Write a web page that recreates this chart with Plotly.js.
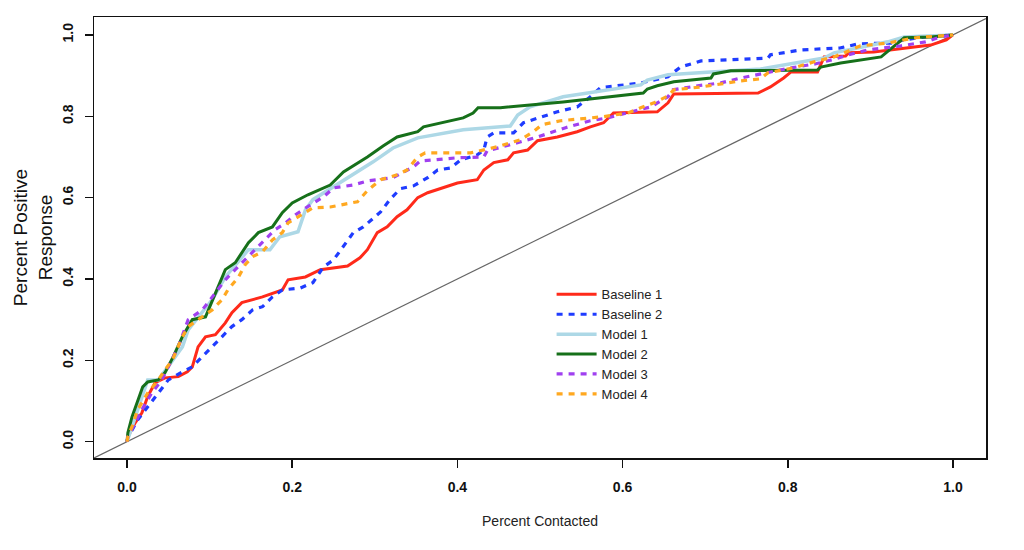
<!DOCTYPE html>
<html>
<head>
<meta charset="utf-8">
<script src="https://cdn.plot.ly/plotly-3.0.1.min.js"></script>
<style>html,body{margin:0;padding:0;background:#fff;}#chart{width:1024px;height:550px;}</style>
</head>
<body>
<div id="chart"></div>
<script>
// Series names
const seriesNames = ["Baseline 1", "Baseline 2", "Model 1", "Model 2", "Model 3", "Model 4"];

// Baseline 1 (red)
const b1x = [0,0.001,0.010,0.018,0.025,0.034,0.046,0.062,0.073,0.079,0.086,0.095,0.107,0.119,0.127,0.139,0.164,0.188,0.195,0.216,0.234,0.267,0.282,0.291,0.303,0.315,0.327,0.339,0.352,0.364,0.400,0.424,0.432,0.444,0.461,0.468,0.485,0.497,0.521,0.545,0.561,0.577,0.589,0.642,0.655,0.662,0.764,0.779,0.795,0.804,0.836,0.844,0.870,0.874,0.904,0.973,0.992,1.0];
const b1y = [0,0.012,0.047,0.071,0.111,0.145,0.157,0.160,0.172,0.184,0.233,0.258,0.263,0.292,0.317,0.342,0.356,0.373,0.398,0.405,0.423,0.432,0.452,0.472,0.514,0.528,0.553,0.570,0.600,0.612,0.636,0.644,0.668,0.686,0.693,0.710,0.717,0.740,0.749,0.762,0.774,0.784,0.808,0.811,0.833,0.855,0.857,0.872,0.894,0.909,0.909,0.946,0.948,0.956,0.958,0.975,0.988,1.0];

// Baseline 2 (blue dotted)
const b2x = [0,0.001,0.013,0.025,0.038,0.050,0.067,0.079,0.091,0.103,0.115,0.127,0.139,0.152,0.164,0.176,0.188,0.210,0.225,0.238,0.250,0.262,0.274,0.286,0.295,0.307,0.319,0.331,0.347,0.364,0.376,0.392,0.404,0.424,0.432,0.436,0.444,0.468,0.480,0.504,0.521,0.545,0.561,0.573,0.622,0.655,0.670,0.695,0.776,0.779,0.816,0.864,0.885,0.925,0.941,0.977,1.0];
const b2y = [0,0.010,0.054,0.086,0.120,0.152,0.172,0.184,0.209,0.233,0.258,0.283,0.300,0.324,0.332,0.356,0.373,0.378,0.391,0.430,0.447,0.479,0.514,0.528,0.545,0.565,0.597,0.622,0.629,0.649,0.668,0.673,0.693,0.705,0.717,0.749,0.759,0.759,0.784,0.799,0.811,0.823,0.848,0.870,0.882,0.897,0.921,0.936,0.943,0.951,0.963,0.968,0.978,0.980,0.988,0.998,1.0];

// Model 1 (light blue)
const m1x = [0,0.025,0.038,0.067,0.074,0.103,0.119,0.147,0.173,0.185,0.207,0.216,0.225,0.250,0.274,0.298,0.322,0.352,0.407,0.464,0.473,0.488,0.528,0.622,0.630,0.655,0.707,0.767,0.844,0.856,0.921,0.941,1.0];
const m1y = [0,0.152,0.152,0.233,0.275,0.349,0.405,0.472,0.472,0.504,0.516,0.570,0.595,0.627,0.656,0.688,0.722,0.747,0.767,0.776,0.803,0.823,0.848,0.877,0.889,0.902,0.909,0.916,0.943,0.956,0.983,0.995,1.0];

// Model 2 (dark green)
const m2x = [0,0.001,0.006,0.013,0.019,0.025,0.038,0.046,0.056,0.067,0.079,0.095,0.107,0.119,0.131,0.147,0.159,0.176,0.188,0.200,0.219,0.246,0.262,0.291,0.310,0.327,0.352,0.359,0.407,0.419,0.425,0.452,0.528,0.625,0.630,0.642,0.662,0.707,0.710,0.731,0.836,0.840,0.864,0.913,0.928,0.941,0.973,1.0];
const m2y = [0,0.022,0.061,0.103,0.135,0.147,0.152,0.170,0.209,0.258,0.300,0.307,0.366,0.423,0.440,0.489,0.514,0.528,0.563,0.587,0.607,0.631,0.663,0.700,0.727,0.749,0.762,0.774,0.796,0.808,0.821,0.821,0.835,0.857,0.867,0.875,0.885,0.894,0.904,0.912,0.914,0.921,0.931,0.946,0.971,0.993,0.995,1.0];

// Model 3 (purple dotted)
const m3x = [0,0.001,0.010,0.018,0.030,0.042,0.050,0.062,0.074,0.091,0.098,0.107,0.119,0.131,0.147,0.164,0.179,0.192,0.204,0.218,0.238,0.250,0.274,0.291,0.322,0.335,0.347,0.355,0.400,0.432,0.436,0.464,0.497,0.531,0.561,0.582,0.613,0.634,0.655,0.661,0.691,0.719,0.743,0.767,0.804,0.834,0.858,0.873,0.897,0.937,0.967,0.985,1.0];
const m3y = [0,0.012,0.047,0.079,0.120,0.152,0.184,0.233,0.300,0.324,0.342,0.366,0.398,0.423,0.455,0.489,0.521,0.538,0.558,0.577,0.602,0.624,0.631,0.641,0.649,0.663,0.676,0.690,0.698,0.700,0.715,0.730,0.749,0.772,0.789,0.796,0.811,0.823,0.848,0.865,0.875,0.882,0.894,0.904,0.919,0.929,0.941,0.951,0.963,0.973,0.983,0.995,1.0];

// Model 4 (orange dotted)
const m4x = [0,0.001,0.006,0.013,0.025,0.038,0.046,0.055,0.067,0.074,0.086,0.103,0.115,0.122,0.135,0.143,0.152,0.164,0.176,0.188,0.195,0.212,0.225,0.246,0.279,0.291,0.307,0.327,0.339,0.352,0.361,0.416,0.448,0.476,0.492,0.502,0.525,0.577,0.606,0.622,0.638,0.655,0.662,0.695,0.743,0.767,0.776,0.807,0.832,0.856,0.888,0.921,0.955,1.0];
const m4y = [0,0.012,0.037,0.079,0.120,0.152,0.177,0.201,0.258,0.283,0.300,0.324,0.349,0.373,0.405,0.435,0.455,0.467,0.496,0.514,0.538,0.558,0.575,0.577,0.590,0.617,0.644,0.656,0.668,0.700,0.710,0.710,0.725,0.742,0.762,0.779,0.789,0.799,0.808,0.821,0.833,0.850,0.865,0.872,0.887,0.892,0.907,0.919,0.934,0.946,0.973,0.980,0.993,1.0];

// Reference (random) line ends
const refLine = [-0.04, 1.04];

// Axis ticks
const xTicks = [0, 0.2, 0.4, 0.6, 0.8, 1.0];
const xTickLabels = ["0.0", "0.2", "0.4", "0.6", "0.8", "1.0"];
const yTicks = [0, 0.2, 0.4, 0.6, 0.8, 1.0];
const yTickLabels = ["0.0", "0.2", "0.4", "0.6", "0.8", "1.0"];

const dotDash = "6px,6px";
const traces = [
  {x: refLine, y: refLine, mode: "lines", line: {color: "#666666", width: 1.2}, showlegend: false, hoverinfo: "skip"},
  {x: b1x, y: b1y, name: seriesNames[0], mode: "lines", line: {color: "#ff2a1a", width: 3}},
  {x: b2x, y: b2y, name: seriesNames[1], mode: "lines", line: {color: "#1f3cff", width: 3.2, dash: dotDash}},
  {x: m1x, y: m1y, name: seriesNames[2], mode: "lines", line: {color: "#add8e6", width: 3.5}},
  {x: m2x, y: m2y, name: seriesNames[3], mode: "lines", line: {color: "#16701a", width: 3}},
  {x: m3x, y: m3y, name: seriesNames[4], mode: "lines", line: {color: "#a040f0", width: 3.2, dash: dotDash}},
  {x: m4x, y: m4y, name: seriesNames[5], mode: "lines", line: {color: "#ffa820", width: 3.2, dash: dotDash}}
];

const tickFont = {family: "Liberation Sans Narrow, Arial Narrow, Liberation Sans, sans-serif", size: 14, color: "#111", weight: "bold"};

const layout = {
  width: 1024, height: 550,
  margin: {l: 94, r: 38, t: 17, b: 92},
  paper_bgcolor: "#ffffff", plot_bgcolor: "#ffffff",
  showlegend: true,
  legend: {
    x: 0.513, y: 0.405, xanchor: "left", yanchor: "top",
    bgcolor: "rgba(255,255,255,0)", borderwidth: 0,
    font: {family: "Liberation Sans, Arial, sans-serif", size: 13, color: "#222"},
    tracegroupgap: 0, itemwidth: 40
  },
  xaxis: {
    range: [-0.04, 1.04], tickvals: xTicks, ticktext: xTickLabels,
    ticks: "outside", ticklen: 8, tickwidth: 1.5, tickcolor: "#111",
    showline: true, linecolor: "#111", linewidth: 1.5, mirror: true,
    showgrid: false, zeroline: false, tickfont: tickFont, ticklabelstandoff: 8,
    title: {text: "Percent Contacted", standoff: 22, font: {family: "Liberation Sans Narrow, Arial Narrow, sans-serif", size: 14, color: "#222"}}
  },
  yaxis: {
    range: [-0.04, 1.044], tickvals: yTicks, ticktext: yTickLabels, tickangle: -90,
    ticks: "outside", ticklen: 8, tickwidth: 1.5, tickcolor: "#111",
    showline: true, linecolor: "#111", linewidth: 1.5, mirror: true,
    showgrid: false, zeroline: false, tickfont: tickFont, ticklabelstandoff: 6,
    title: {text: "Percent Positive<br>Response", standoff: 2, font: {family: "Liberation Sans, Arial, sans-serif", size: 19, color: "#111"}}
  }
};

Plotly.newPlot("chart", traces, layout, {displayModeBar: false, staticPlot: true});
</script>
</body>
</html>
